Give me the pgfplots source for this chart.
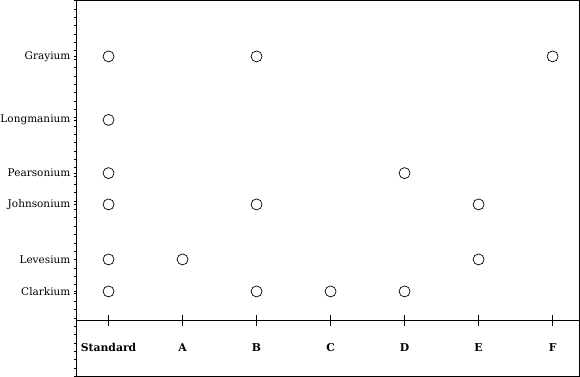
\documentclass[border=0pt]{standalone}
\usepackage{fontspec}
\setmainfont{DejaVu Serif}
\usepackage{pgfplots}
\pgfplotsset{compat=1.18}
\begin{document}
\begin{tikzpicture}
\begin{axis}[
  scale only axis,
  width=503pt, height=376pt,
  xmin=-0.4324, xmax=6.365,
  ymin=0, ymax=376,
  axis line style={line width=0.8pt},
  xtick={0,1,2,3,4,5,6},
  xticklabels={Standard,A,B,C,D,E,F},
  xtick style={draw=none},
  xticklabel style={anchor=center, yshift=29pt, font=\fontsize{10.8}{12}\selectfont\bfseries},
  ytick={85,117,172,203.3,256.5,320},
  yticklabels={Clarkium,Levesium,Johnsonium,Pearsonium,Longmanium,Grayium},
  yticklabel style={font=\fontsize{10.5}{12}\selectfont, inner sep=0.5pt, xshift=-2.5pt},
  ytick pos=left,
  ytick align=outside,
  major tick length=3pt,
  minor tick length=3pt,
  minor ytick={0,8.35,...,376},
  tick style={black, line width=0.6pt},
  clip=false,
]
\draw[line width=0.8pt] (axis cs:-0.4324,56) -- (axis cs:6.365,56);
\pgfplotsinvokeforeach{0,...,6}{
  \draw[line width=0.8pt] (axis cs:#1,50.5) -- (axis cs:#1,61.5);
}
\addplot[only marks, mark=o, mark size=5.5pt, mark options={line width=0.7pt, black}] coordinates {
 (0,320) (0,256.5) (0,203.3) (0,172) (0,117) (0,85)
 (1,117)
 (2,320) (2,172) (2,85)
 (3,85)
 (4,203.3) (4,85)
 (5,172) (5,117)
 (6,320)
};
\end{axis}
\end{tikzpicture}
\end{document}
